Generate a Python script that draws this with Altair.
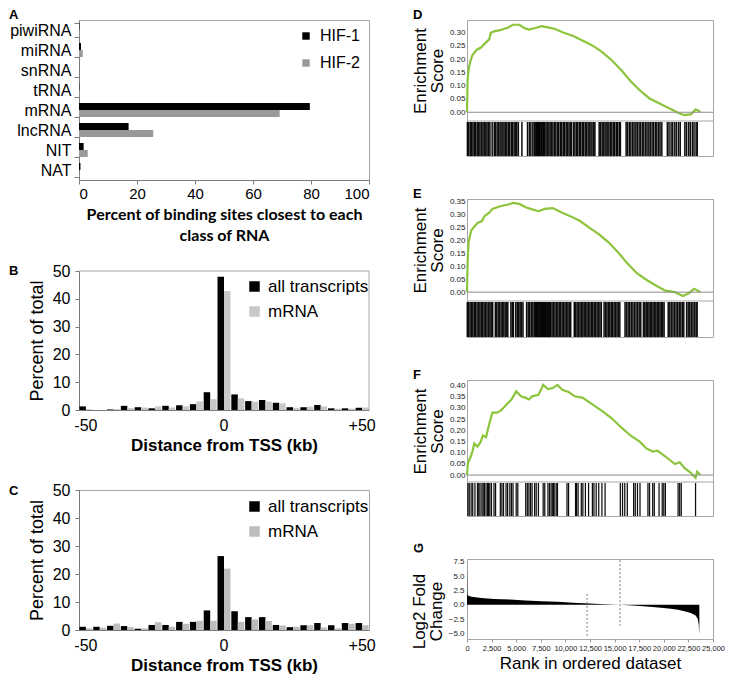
import altair as alt
import pandas as pd

FONT = "Liberation Sans"
GREEN = "#8cc43c"
FRAME = "#a6a6a6"
AXIS_GRAY = "#7a7a7a"

# ---------------- Panel A data ----------------
rna_classes = ["piwiRNA", "miRNA", "snRNA", "tRNA", "mRNA", "lncRNA", "NIT", "NAT"]
hif1_pct = [0.1, 0.7, 0.0, 0.1, 79.6, 17.1, 1.6, 0.5]
hif2_pct = [0.2, 1.3, 0.0, 0.2, 69.2, 25.6, 3.0, 0.1]
a_series = ["HIF-1", "HIF-2"]
a_ticks = [0, 20, 40, 60, 80, 100]

# ---------------- Panels B, C data ----------------
tss_bins = [-50, -45, -40, -35, -30, -25, -20, -15, -10, -5, 0, 5, 10, 15, 20, 25, 30, 35, 40, 45, 50]
bc_series = ["all transcripts", "mRNA"]
b_all = [1.3, 0.0, 0.2, 1.5, 1.0, 0.6, 1.5, 1.7, 2.1, 6.4, 47.9, 5.6, 3.2, 3.6, 2.6, 1.0, 1.0, 1.8, 0.6, 0.6, 0.8]
b_mrna = [0.3, 0.0, 0.3, 0.7, 0.9, 1.3, 0.9, 1.3, 3.1, 3.9, 42.8, 4.2, 3.0, 3.0, 2.4, 0.8, 1.2, 1.3, 0.5, 0.5, 0.9]
c_all = [1.15, 1.15, 1.5, 1.4, 0.45, 1.8, 1.8, 2.9, 2.9, 7.0, 26.4, 6.7, 4.6, 4.6, 1.8, 1.0, 1.7, 2.5, 1.7, 2.5, 2.5]
c_mrna = [0.6, 0.8, 2.3, 1.0, 0.6, 2.8, 1.15, 2.2, 3.3, 3.3, 21.9, 2.9, 3.8, 3.2, 1.6, 1.15, 1.7, 0.9, 0.6, 2.2, 1.7]
pct_ticks = [0, 10, 20, 30, 40, 50]

# ---------------- Panels D, E, F data (GSEA) ----------------
d_rank = [0, 65, 161, 323, 548, 968, 1452, 1774, 2258, 2420, 2742, 3387, 4194, 4678, 5323, 5807, 6291,
          6936, 7581, 8226, 8872, 9839, 10807, 11775, 12743, 13711, 14678, 15646, 16614, 17582, 18550,
          19517, 20485, 21453, 22098, 22743, 23227, 23550, 23711]
d_es = [0.0, 0.125, 0.16, 0.19, 0.215, 0.235, 0.245, 0.258, 0.275, 0.30, 0.305, 0.31, 0.32, 0.33, 0.33,
        0.318, 0.312, 0.318, 0.325, 0.32, 0.315, 0.30, 0.288, 0.27, 0.252, 0.228, 0.197, 0.16, 0.118,
        0.082, 0.052, 0.034, 0.016, -0.002, -0.011, -0.008, 0.010, 0.006, 0.0]
d_hits = [40, 170, 330, 470, 610, 760, 880, 1040, 1190, 1320, 1470, 1620, 1750, 1910, 2040, 2200, 2330,
          2560, 2770, 2890, 3060, 3190, 3350, 3470, 3640, 3770, 3930, 4050, 4210, 4340, 4510, 4630, 4790,
          4940, 5060, 5220, 5580, 6150, 6340, 6490, 6690, 6840, 6990, 7070, 7180, 7250, 7360, 7430,
          7540, 7610, 7720, 7790, 7890, 8030, 8160, 8320, 8450, 8610, 8740, 8910, 9030, 9200, 9320,
          9490, 9610, 9780, 9900, 10070, 10190, 10360, 10490, 10630, 10840, 10970, 11140, 11260, 11430,
          11550, 11720, 11840, 12010, 12130, 12300, 12420, 12590, 12710, 12880, 13000, 13430, 13560,
          13730, 13850, 14020, 14140, 14310, 14430, 14600, 14720, 14890, 15010, 15180, 15300, 15470,
          15590, 16170, 16320, 16500, 16650, 16830, 16980, 17160, 17310, 17490, 17640, 17820, 17970,
          18150, 18300, 18480, 18630, 18810, 18960, 19140, 19290, 19470, 19620, 19800, 20360, 20530,
          20740, 20910, 21120, 21290, 21500, 21670, 22140, 22310, 22520, 22690, 22900, 23070, 23280, 23400]
d_ticks = [0.0, 0.05, 0.10, 0.15, 0.20, 0.25, 0.30]

e_rank = [0, 65, 161, 419, 807, 1129, 1516, 1774, 2258, 2581, 3387, 4194, 4678, 5323, 5968, 6613, 7259,
          7904, 8710, 9517, 10485, 11452, 12420, 13388, 14356, 15324, 16291, 17259, 18227, 19195, 20163,
          21130, 21937, 22582, 23066, 23550, 23711]
e_es = [0.0, 0.117, 0.193, 0.237, 0.256, 0.268, 0.274, 0.293, 0.306, 0.321, 0.331, 0.338, 0.344, 0.340,
        0.327, 0.319, 0.312, 0.321, 0.324, 0.309, 0.293, 0.275, 0.249, 0.224, 0.193, 0.155, 0.111, 0.073,
        0.048, 0.026, 0.006, 0.0, -0.015, -0.003, 0.013, 0.004, 0.0]
e_hits = [30, 160, 310, 450, 590, 740, 870, 1020, 1170, 1310, 1450, 1600, 1740, 1890, 2030, 2180, 2330,
          2460, 2610, 2880, 3010, 3170, 3300, 3460, 3590, 3740, 3880, 4030, 4150, 4460, 4600, 4720, 4960,
          5110, 5260, 5400, 5540, 5690, 6060, 6220, 6370, 6530, 6690, 6830, 6960, 7050, 7140, 7230, 7320,
          7410, 7500, 7590, 7680, 7770, 7860, 7950, 8040, 8130, 8220, 8310, 8400, 8510, 8650, 8800, 8940,
          9090, 9230, 9380, 9520, 9670, 9810, 9960, 10100, 10250, 10390, 10540, 10900, 11040, 11190,
          11330, 11480, 11620, 11770, 11910, 12060, 12200, 12350, 12490, 12640, 12780, 12930, 13070,
          13220, 13360, 13510, 13650, 13930, 14080, 14220, 14370, 14510, 14660, 14800, 14950, 15090,
          15240, 15380, 15530, 16060, 16220, 16380, 16540, 16700, 16860, 17020, 17180, 17340, 17500,
          17660, 17930, 18070, 18210, 18350, 18490, 18630, 18770, 18910, 19050, 19190, 19330, 19470,
          19610, 19750, 19890, 20030, 20450, 20610, 20770, 20930, 21090, 21250, 21410, 21570, 21730,
          21890, 22030, 22320, 22480, 22640, 22800, 22960, 23120, 23280, 23390]
e_ticks = [0.0, 0.05, 0.10, 0.15, 0.20, 0.25, 0.30, 0.35]

f_rank = [0, 97, 323, 548, 742, 1065, 1387, 1613, 1936, 2258, 2581, 3065, 3387, 3710, 4194, 4516, 5000,
          5484, 5968, 6291, 6613, 7259, 7516, 7742, 8226, 8710, 9194, 9678, 10323, 10968, 11775, 12743,
          13711, 14678, 15646, 16614, 17582, 18227, 18872, 19356, 20163, 21130, 21614, 22098, 22743,
          23227, 23388, 23711]
f_es = [0.0, 0.054, 0.076, 0.105, 0.141, 0.127, 0.148, 0.177, 0.170, 0.228, 0.279, 0.279, 0.287, 0.301,
        0.323, 0.338, 0.374, 0.352, 0.345, 0.338, 0.352, 0.359, 0.381, 0.403, 0.384, 0.389, 0.403, 0.381,
        0.371, 0.352, 0.345, 0.316, 0.287, 0.255, 0.214, 0.177, 0.148, 0.119, 0.105, 0.109, 0.083, 0.049,
        0.057, 0.032, 0.010, -0.012, 0.015, 0.0]
f_hits = [97, 226, 419, 581, 807, 1065, 1194, 1323, 1516, 1645, 1774, 1936, 2097, 2194, 2323, 2484,
          2742, 2903, 3387, 3548, 3710, 3968, 4129, 4355, 4516, 4678, 5000, 5162, 5968, 6129, 6291, 6452,
          6613, 6871, 7033, 7259, 7742, 7904, 8226, 8388, 8549, 8710, 8807, 8936, 9130, 9194, 10162,
          10323, 11033, 11130, 11291, 11614, 11775, 12033, 12356, 12743, 12904, 13130, 13388, 13711,
          14033, 15582, 15807, 16033, 16291, 16936, 17098, 17324, 17582, 18388, 18550, 18872, 19033,
          19517, 19840, 20001, 20162, 21453, 21614, 21775, 23227]
f_ticks = [0.0, 0.05, 0.10, 0.15, 0.20, 0.25, 0.30, 0.35, 0.40]

# ---------------- Panel G data ----------------
g_rank = [0, 40, 80, 300, 484, 1452, 2742, 4355, 5968, 7581, 9194, 10807, 12420, 14033, 15550, 17259,
          18872, 20485, 21453, 22098, 22743, 23227, 23453, 23550, 23614]
g_lfc = [6.6, 1.9, 1.6, 1.5, 1.4, 1.18, 1.0, 0.9, 0.73, 0.62, 0.5, 0.34, 0.22, 0.1, 0.0, -0.17, -0.4,
         -0.68, -0.9, -1.13, -1.46, -1.9, -2.5, -3.5, -5.2]
g_guide_rank = [12200, 15550]
g_guide_top = [1.9, 7.8]
g_guide_bottom = [-5.5, -3.7]
g_xticks = [0, 2500, 5000, 7500, 10000, 12500, 15000, 17500, 20000, 22500, 25000]
g_yticks = [-5.0, -2.5, 0.0, 2.5, 5.0, 7.5]

# ---------------- layout sizes ----------------
LW = 290
A_H = 160
B_EXTRA = 11
B_H = 150
C_H = 140
LEFT_SP = 80
RW = 246
RIGHT_SP = 43
COL_SP = 33
RANK_DOMAIN = [0, 25000]


def letter(ch, x, y, angle=0, align="left", baseline="top"):
    df = pd.DataFrame({"letter": [ch]})
    kw = dict(align=align, baseline=baseline, fontSize=13, fontWeight="bold", font=FONT, color="#000")
    if angle:
        kw["angle"] = angle
    return alt.Chart(df).mark_text(**kw).encode(x=alt.value(x), y=alt.value(y), text="letter:N")


# ---------------- Panel A ----------------
dfA = pd.DataFrame({
    "a_class": rna_classes * 2,
    "a_series": [a_series[0]] * len(rna_classes) + [a_series[1]] * len(rna_classes),
    "a_pct": hif1_pct + hif2_pct,
})
barsA = alt.Chart(dfA).mark_bar().encode(
    x=alt.X("a_pct:Q", scale=alt.Scale(domain=[0, 100], nice=False),
            axis=alt.Axis(values=a_ticks, labelFontSize=15, tickSize=4, labelPadding=2,
                          title=["Percent of binding sites closest to each", "class of RNA"],
                          titleFont="Lato", titleFontWeight="bold", titleFontSize=16,
                          titlePadding=5, titleLineHeight=21)),
    y=alt.Y("a_class:N", sort=rna_classes, scale=alt.Scale(paddingInner=0.3, paddingOuter=0.15),
            axis=alt.Axis(title=None, labelFontSize=16, tickBand="extent", tickSize=5, labelPadding=3)),
    yOffset=alt.YOffset("a_series:N", sort=a_series),
    color=alt.Color("a_series:N", scale=alt.Scale(domain=a_series, range=["#000000", "#999999"]),
                    legend=alt.Legend(title=None, orient="none", legendX=219, legendY=8,
                                      symbolType="square", symbolSize=55, symbolStrokeWidth=0,
                                      labelFontSize=16, labelOffset=6, rowPadding=11, padding=0)),
)
panelA = alt.layer(barsA, letter("A", -70, -11)).properties(width=LW, height=A_H)


# ---------------- Panels B & C ----------------
def tss_panel(all_vals, mrna_vals, key, h, top, leg_y, gray, ch, ch_y, manual_frame):
    df = pd.DataFrame({
        key + "_bin": tss_bins * 2,
        key + "_series": [bc_series[0]] * len(tss_bins) + [bc_series[1]] * len(tss_bins),
        key + "_pct": all_vals + mrna_vals,
    })
    bars = alt.Chart(df).mark_bar().encode(
        x=alt.X(key + "_bin:O", sort=tss_bins, scale=alt.Scale(paddingInner=0.06, paddingOuter=0.03),
                axis=alt.Axis(title="Distance from TSS (kb)", titleFontSize=17, titleFontWeight="bold",
                              titlePadding=4, labelFontSize=16, labelPadding=7, ticks=False,
                              labelAngle=0, domainColor=AXIS_GRAY, labelOverlap=False,
                              labelExpr="datum.value == 50 ? '+50' : ((datum.value == -50 || datum.value == 0) ? datum.label : '')")),
        xOffset=alt.XOffset(key + "_series:N", sort=bc_series),
        y=alt.Y(key + "_pct:Q", scale=alt.Scale(domain=[0, 50], nice=False, range=[h, top]),
                axis=alt.Axis(values=pct_ticks, title="Percent of total", titleFontSize=18,
                              titleFontWeight="normal", labelFontSize=16, tickSize=4, labelPadding=5,
                              titlePadding=6, domainColor=AXIS_GRAY, labelOverlap=False)),
        color=alt.Color(key + "_series:N", scale=alt.Scale(domain=bc_series, range=["#000000", gray]),
                        legend=alt.Legend(title=None, orient="none", legendX=167, legendY=leg_y,
                                          symbolType="square", symbolSize=110, symbolStrokeWidth=0,
                                          labelFontSize=17, labelOffset=5, rowPadding=7, padding=0)),
    )
    layers = [bars]
    if manual_frame:
        fdf = pd.DataFrame({"f": [0]})
        layers.append(alt.Chart(fdf).mark_rule(color=FRAME, strokeWidth=1).encode(y=alt.value(top)))
        layers.append(alt.Chart(fdf).mark_rule(color=FRAME, strokeWidth=1).encode(
            x=alt.value(LW), y=alt.value(top), y2=alt.value(h)))
    layers.append(letter(ch, -70, ch_y))
    p = alt.layer(*layers).properties(width=LW, height=h)
    if manual_frame:
        p = p.properties(view=alt.ViewBackground(strokeOpacity=0))
    return p


panelB = tss_panel(b_all, b_mrna, "b", B_H, B_EXTRA, B_EXTRA + 7, "#c8c8c8", "B", B_EXTRA - 6, True)
panelC = tss_panel(c_all, c_mrna, "c", C_H, 0, 8, "#bdbdbd", "C", -5, False)


# ---------------- Panels D, E, F ----------------
def es_panel(key, ranks, es, hits, ticks, lo, hi, es_h, h, ch, hit_w):
    dfc = pd.DataFrame({key + "_rank": ranks, key + "_es": es})
    dfh = pd.DataFrame({key + "_rank": hits})
    dfz = pd.DataFrame({key + "_es": [0.0]})
    x_enc = alt.X(key + "_rank:Q", scale=alt.Scale(domain=RANK_DOMAIN, nice=False), axis=None)
    y_enc = alt.Y(key + "_es:Q", scale=alt.Scale(domain=[lo, hi], nice=False, zero=False, range=[es_h, 0]),
                  axis=alt.Axis(values=ticks, format=".2f", labelFontSize=8, labelColor="#222",
                                ticks=False, labelPadding=2, domain=False, labelOverlap=False,
                                labelBound=False,
                                title=["Enrichment", "Score"], titleFontSize=17, titleFontWeight="normal",
                                titlePadding=3, titleLineHeight=17))
    line = alt.Chart(dfc).mark_line(color=GREEN, strokeWidth=2.2).encode(x=x_enc, y=y_enc)
    zero = alt.Chart(dfz).mark_rule(color="#8c8c8c", strokeWidth=1).encode(y=y_enc)
    one = pd.DataFrame({"z": [0]})
    sep = alt.Chart(one).mark_rule(color=FRAME, strokeWidth=1).encode(y=alt.value(es_h))
    bars = alt.Chart(dfh).mark_rule(color="#000000", strokeWidth=hit_w, opacity=0.95).encode(
        x=x_enc, y=alt.value(es_h + 1), y2=alt.value(h))
    return alt.layer(line, zero, bars, sep, letter(ch, -54, -11)).properties(width=RW, height=h)


panelD = es_panel("d", d_rank, d_es, d_hits, d_ticks, -0.033, 0.348, 101, 136, "D", 1.5)
panelE = es_panel("e", e_rank, e_es, e_hits, e_ticks, -0.034, 0.359, 102, 138, "E", 1.5)
panelF = es_panel("f", f_rank, f_es, f_hits, f_ticks, -0.031, 0.425, 102, 136, "F", 1.25)

# ---------------- Panel G ----------------
dfG = pd.DataFrame({"g_rank": g_rank, "g_lfc": g_lfc})
dfGuide = pd.DataFrame({"g_rank": g_guide_rank, "g_lfc": g_guide_top, "g_bot": g_guide_bottom})
gx_enc = alt.X("g_rank:Q", scale=alt.Scale(domain=RANK_DOMAIN, nice=False),
               axis=alt.Axis(values=g_xticks, labelExpr="format(datum.value, ',')", labelFontSize=7.5,
                             labelColor="#222", tickSize=3, labelPadding=2, domain=False, tickColor="#999",
                             labelOverlap=False, labelBound=False, labelFlush=False,
                             title="Rank in ordered dataset", titleFontSize=17, titleFontWeight="normal",
                             titlePadding=4))
gy_enc = alt.Y("g_lfc:Q", scale=alt.Scale(domain=[-6.0, 8.0], nice=False, zero=False),
               axis=alt.Axis(values=g_yticks, format=".1f", labelFontSize=8, labelColor="#222", ticks=False,
                             labelPadding=3, domain=False, labelOverlap=False, labelBound=False,
                             title=["Log2 Fold", "Change"], titleFontSize=17, titleY=52,
                             titleFontWeight="normal", titlePadding=3, titleLineHeight=17))
areaG = alt.Chart(dfG).mark_area(color="#000000").encode(x=gx_enc, y=gy_enc, y2=alt.datum(0))
guidesG = alt.Chart(dfGuide).mark_rule(color="#777777", strokeWidth=1, strokeDash=[2, 2]).encode(
    x=gx_enc, y=gy_enc, y2="g_bot:Q")
panelG = alt.layer(areaG, guidesG, letter("G", -48, -11, angle=270, align="center", baseline="middle")
                   ).properties(width=RW, height=80)

left = alt.vconcat(panelA, panelB, panelC, spacing=LEFT_SP, bounds="flush").resolve_scale(
    color="independent", xOffset="independent", yOffset="independent")
right = alt.vconcat(panelD, panelE, panelF, panelG, spacing=RIGHT_SP, bounds="flush")

chart = alt.hconcat(left, right, spacing=COL_SP).resolve_scale(color="independent").properties(
    padding=0
).configure(font=FONT).configure_view(stroke=FRAME, strokeWidth=1).configure_axis(
    grid=False, labelFont=FONT, titleFont=FONT, labelColor="#000", titleColor="#000",
    domainColor=AXIS_GRAY, tickColor=AXIS_GRAY
).configure_legend(labelFont=FONT, labelColor="#000")

chart.save("out.html", embed_options={"renderer": "svg", "actions": False})
